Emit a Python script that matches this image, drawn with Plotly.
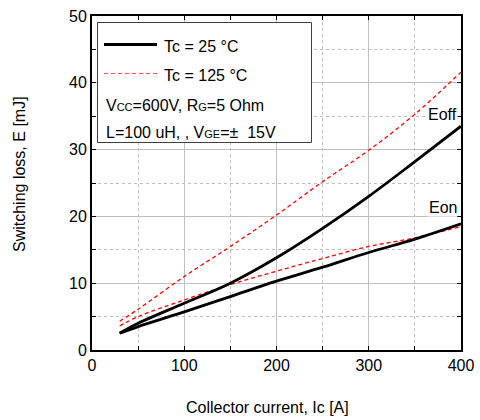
import plotly.graph_objects as go

# ---- data ----
ic = [30, 50, 100, 150, 200, 250, 300, 350, 400]
eoff_25 = [2.5, 4.0, 7.0, 10.0, 13.8, 18.2, 23.0, 28.2, 33.5]
eon_25 = [2.5, 3.5, 5.7, 8.0, 10.3, 12.4, 14.6, 16.6, 18.9]
eoff_125 = [4.3, 6.1, 11.0, 15.5, 20.2, 25.2, 29.9, 35.3, 41.6]
eon_125 = [3.6, 5.0, 7.5, 9.8, 11.8, 13.7, 15.5, 16.8, 18.5]

x_range = [0, 400]
y_range = [0, 50]

FONT = "Liberation Sans, Arial, sans-serif"
W, H = 480, 420
L, R, T, B = 92, 19, 16, 70
PW, PH = W - L - R, H - T - B


def px(x):
    return (x - L) / PW


def py(y):
    return (H - B - y) / PH


fig = go.Figure()
solid = dict(color="rgb(0,0,0)", width=2.8, shape="spline", smoothing=1.0)
dashed = dict(color="rgb(255,0,0)", width=1.3, dash="4px,3px", shape="spline", smoothing=1.0)
fig.add_trace(go.Scatter(x=ic, y=eoff_125, mode="lines", line=dashed, showlegend=False))
fig.add_trace(go.Scatter(x=ic, y=eon_125, mode="lines", line=dashed, showlegend=False))
fig.add_trace(go.Scatter(x=ic, y=eoff_25, mode="lines", line=solid, showlegend=False))
fig.add_trace(go.Scatter(x=ic, y=eon_25, mode="lines", line=solid, showlegend=False))

GRID = "rgb(192,192,192)"
for ax, dt, mdt in ((fig.update_xaxes, 100, 50), (fig.update_yaxes, 10, 5)):
    ax(showgrid=True, gridcolor=GRID, gridwidth=1, dtick=dt,
       minor=dict(dtick=mdt, showgrid=True, gridcolor=GRID, griddash="dot",
                  ticks="inside", ticklen=4, tickcolor="rgb(0,0,0)"),
       showline=True, linecolor="rgb(0,0,0)", linewidth=2, mirror="ticks",
       ticks="inside", ticklen=4, tickcolor="rgb(0,0,0)",
       zeroline=False, tickfont=dict(family=FONT, size=16, color="rgb(0,0,0)"))
fig.update_xaxes(range=x_range)
fig.update_yaxes(range=y_range)

shapes = [
    dict(type="rect", xref="paper", yref="paper", x0=px(97.5), x1=px(311.5), y0=py(142.5), y1=py(22.5),
         line=dict(color="rgb(64,64,64)", width=1), fillcolor="rgb(255,255,255)", layer="above"),
    dict(type="line", xref="paper", yref="paper", x0=px(104), x1=px(157), y0=py(44.5), y1=py(44.5),
         line=dict(color="rgb(0,0,0)", width=2.8), layer="above"),
    dict(type="line", xref="paper", yref="paper", x0=px(104), x1=px(157), y0=py(73.5), y1=py(73.5),
         line=dict(color="rgb(255,80,80)", width=1.1, dash="4px,3px"), layer="above"),
]

sm = "<span style='font-size:11px'>{}</span>"
ann_font = dict(family=FONT, size=16, color="rgb(0,0,0)")
annotations = [
    dict(text="Tc = 25 °C", x=px(162), y=py(46), xanchor="left", yanchor="middle"),
    dict(text="Tc = 125 °C", x=px(162), y=py(75), xanchor="left", yanchor="middle"),
    dict(text="V" + sm.format("CC") + "=600V, R" + sm.format("G") + "=5 Ohm",
         x=px(104), y=py(105), xanchor="left", yanchor="middle"),
    dict(text="L=100 uH, , V" + sm.format("GE") + "=±\u00a0\u00a015V",
         x=px(104), y=py(132), xanchor="left", yanchor="middle"),
    dict(text="Collector current, Ic [A]", x=px(267), y=py(407), xanchor="center", yanchor="middle"),
    dict(text="Switching loss, E [mJ]", x=px(20), y=py(174), xanchor="center", yanchor="middle",
         textangle=-90),
]
for a in annotations:
    a.update(xref="paper", yref="paper", showarrow=False, font=ann_font)

annotations += [
    dict(text="Eoff", x=397, y=35.2, xref="x", yref="y", xanchor="right", yanchor="middle",
         showarrow=False, font=ann_font, bgcolor="rgb(255,255,255)", borderpad=0),
    dict(text="Eon", x=397, y=21.3, xref="x", yref="y", xanchor="right", yanchor="middle",
         showarrow=False, font=ann_font, bgcolor="rgb(255,255,255)", borderpad=0),
]

fig.update_layout(
    template="none",
    width=W, height=H, margin=dict(l=L, r=R, t=T, b=B),
    paper_bgcolor="rgb(255,255,255)", plot_bgcolor="rgb(255,255,255)",
    font=dict(family=FONT, size=16, color="rgb(0,0,0)"),
    shapes=shapes, annotations=annotations, showlegend=False,
)

fig.write_html("out.html")
